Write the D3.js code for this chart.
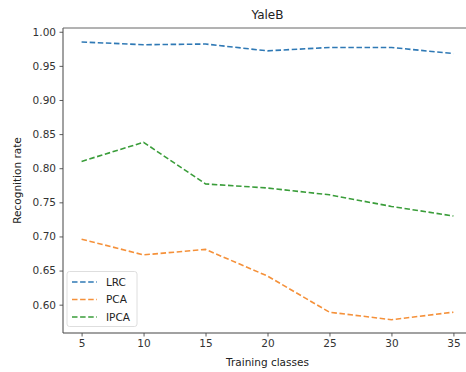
<!DOCTYPE html>
<html>
<head>
<meta charset="utf-8">
<script src="https://cdn.jsdelivr.net/npm/d3@7"></script>
<style>
  html, body { margin: 0; padding: 0; background: #fff; }
  svg { display: block; font-family: "DejaVu Sans", sans-serif; }
</style>
</head>
<body>
<svg id="chart" width="466" height="372"></svg>
<script>
const trainingClasses = [5, 10, 15, 20, 25, 30, 35];
const lrc  = [0.985, 0.981, 0.982, 0.972, 0.977, 0.977, 0.968];
const pca  = [0.696, 0.673, 0.681, 0.642, 0.589, 0.578, 0.589];
const ipca = [0.810, 0.838, 0.777, 0.771, 0.761, 0.744, 0.730];
const seriesNames = ["LRC", "PCA", "IPCA"];
const yTicks = [0.60, 0.65, 0.70, 0.75, 0.80, 0.85, 0.90, 0.95, 1.00];
const xTicks = [5, 10, 15, 20, 25, 30, 35];

const colors = ["#2f79b5", "#f5913a", "#3a9d3a"];
const allSeries = [lrc, pca, ipca];

const svg = d3.select("#chart");
const mLeft = 63, mRight = 472, mTop = 28, mBottom = 333;

const x = d3.scaleLinear().domain([3.5, 36.5]).range([mLeft, mRight]);
const y = d3.scaleLinear().domain([0.5585, 1.0055]).range([mBottom, mTop]);

// axes
const xAxis = d3.axisBottom(x).tickValues(xTicks).tickSize(3.5).tickPadding(3.5).tickFormat(d3.format("d"));
const yAxis = d3.axisLeft(y).tickValues(yTicks).tickSize(3.5).tickPadding(3.5).tickFormat(d3.format(".2f"));

const gx = svg.append("g").attr("transform", `translate(0,${mBottom})`).call(xAxis);
const gy = svg.append("g").attr("transform", `translate(${mLeft},0)`).call(yAxis);
[gx, gy].forEach(g => {
  g.select(".domain").remove();
  g.selectAll(".tick line").attr("stroke", "#333").attr("stroke-width", 0.8);
  g.selectAll(".tick text").attr("fill", "#333").style("font-size", "10.5px").style("font-family", "DejaVu Sans, sans-serif");
});

// spines
svg.append("line").attr("x1", mLeft).attr("x2", mLeft).attr("y1", mTop).attr("y2", mBottom).attr("stroke", "#444").attr("stroke-width", 1);
svg.append("line").attr("x1", mLeft).attr("x2", mRight).attr("y1", mBottom).attr("y2", mBottom).attr("stroke", "#444").attr("stroke-width", 1.2);
svg.append("line").attr("x1", mLeft).attr("x2", mRight).attr("y1", mTop).attr("y2", mTop).attr("stroke", "#666").attr("stroke-width", 1);
svg.append("line").attr("x1", mRight).attr("x2", mRight).attr("y1", mTop).attr("y2", mBottom).attr("stroke", "#666").attr("stroke-width", 1);

// lines
const line = d3.line().x((d, i) => x(trainingClasses[i])).y(d => y(d));
allSeries.forEach((s, k) => {
  svg.append("path").datum(s)
    .attr("d", line)
    .attr("fill", "none")
    .attr("stroke", colors[k])
    .attr("stroke-width", 1.6)
    .attr("stroke-dasharray", "5.5,2.6");
});

// title & labels
svg.append("text").attr("x", (mLeft + mRight) / 2).attr("y", 19).attr("text-anchor", "middle")
  .style("font-size", "12px").attr("fill", "#222").text("YaleB");
svg.append("text").attr("x", (mLeft + mRight) / 2).attr("y", 366).attr("text-anchor", "middle")
  .style("font-size", "10.5px").attr("fill", "#222").text("Training classes");
svg.append("text").attr("transform", `translate(21,${(mTop + mBottom) / 2}) rotate(-90)`).attr("text-anchor", "middle")
  .style("font-size", "10.5px").attr("fill", "#222").text("Recognition rate");

// legend
const lg = svg.append("g");
lg.append("rect").attr("x", 67).attr("y", 271.5).attr("width", 70).attr("height", 55).attr("rx", 2.5)
  .attr("fill", "#fff").attr("fill-opacity", 0.85).attr("stroke", "#d5d5d5").attr("stroke-width", 0.8);
seriesNames.forEach((name, k) => {
  const yy = 282 + k * 17.5;
  lg.append("line").attr("x1", 72).attr("x2", 97).attr("y1", yy).attr("y2", yy)
    .attr("stroke", colors[k]).attr("stroke-width", 1.6).attr("stroke-dasharray", "5.5,2.6");
  lg.append("text").attr("x", 106).attr("y", yy + 3.8).style("font-size", "10.5px").attr("fill", "#222").text(name);
});
</script>
</body>
</html>
